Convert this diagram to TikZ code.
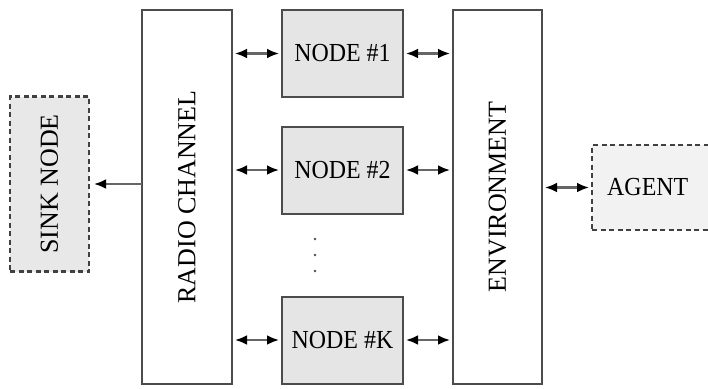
\documentclass[tikz,border=0pt]{standalone}
\usepackage{fontspec}
\setmainfont{Liberation Serif}
\usetikzlibrary{arrows.meta}
\newcommand{\hx}[1]{\scalebox{0.92}[1]{#1}}
\begin{document}
\begin{tikzpicture}[x=1pt,y=-1pt,
  txt/.style={font=\fontsize{26}{28}\selectfont, inner sep=0pt},
  blk/.style={draw=black!70, line width=2pt, inner sep=0pt, outer sep=0pt, font=\fontsize{26}{28}\selectfont},
  solidbox/.style={blk, fill=white},
  nodebox/.style={blk, fill=black!10, minimum width=121pt, minimum height=87pt},
  dashbox/.style={blk, draw=black!75, dash pattern=on 5pt off 3.5pt, line width=2.3pt},
  tip/.tip={Latex[length=12pt,width=10pt,color=black]},
  biarrow/.style={tip-tip, line width=2.4pt, draw=black!60, shorten <=3pt, shorten >=3pt},
  uniarrow/.style={-tip, line width=2.4pt, draw=black!60, shorten >=5pt}
]
\useasboundingbox (0,0) rectangle (708,388);
\node[dashbox, fill=black!9, minimum width=79pt, minimum height=175pt] (sink) at (49.5,184) {};
\node[txt, rotate=90] (sinkt) at (sink.center) {SINK NODE};
\node[solidbox, minimum width=90pt, minimum height=374pt] (radio) at (187,197) {};
\node[txt, rotate=90] (radiot) at (radio.center) {RADIO CHANNEL};
\node[nodebox] (n1) at (342.5,53.5) {\hx{NODE \#1}};
\node[nodebox] (n2) at (342.5,170) {\hx{NODE \#2}};
\node[nodebox] (nk) at (342.5,340) {\hx{NODE \#K}};
\node[solidbox, minimum width=89pt, minimum height=374pt] (env) at (497.5,197) {};
\node[txt, rotate=90] (envt) at (env.center) {ENVIRONMENT};
\node[dashbox, fill=black!5, minimum width=122pt, minimum height=85pt] (agent) at (653,187.5) {};
\node[txt, anchor=west] (agentt) at (607,187.5) {\hx{AGENT}};
\fill[black!70] (315,239) circle (1.4pt) (315,255) circle (1.4pt) (315,271) circle (1.4pt);
\draw[biarrow] (radio.east |- n1.west) -- (n1.west);
\draw[biarrow] (radio.east |- n2.west) -- (n2.west);
\draw[biarrow] (radio.east |- nk.west) -- (nk.west);
\draw[biarrow] (n1.east) -- (env.west |- n1.east);
\draw[biarrow] (n2.east) -- (env.west |- n2.east);
\draw[biarrow] (nk.east) -- (env.west |- nk.east);
\draw[biarrow] (env.east |- agent.west) -- (agent.west);
\draw[uniarrow] (radio.west |- sink.east) -- (sink.east);
\end{tikzpicture}
\end{document}
